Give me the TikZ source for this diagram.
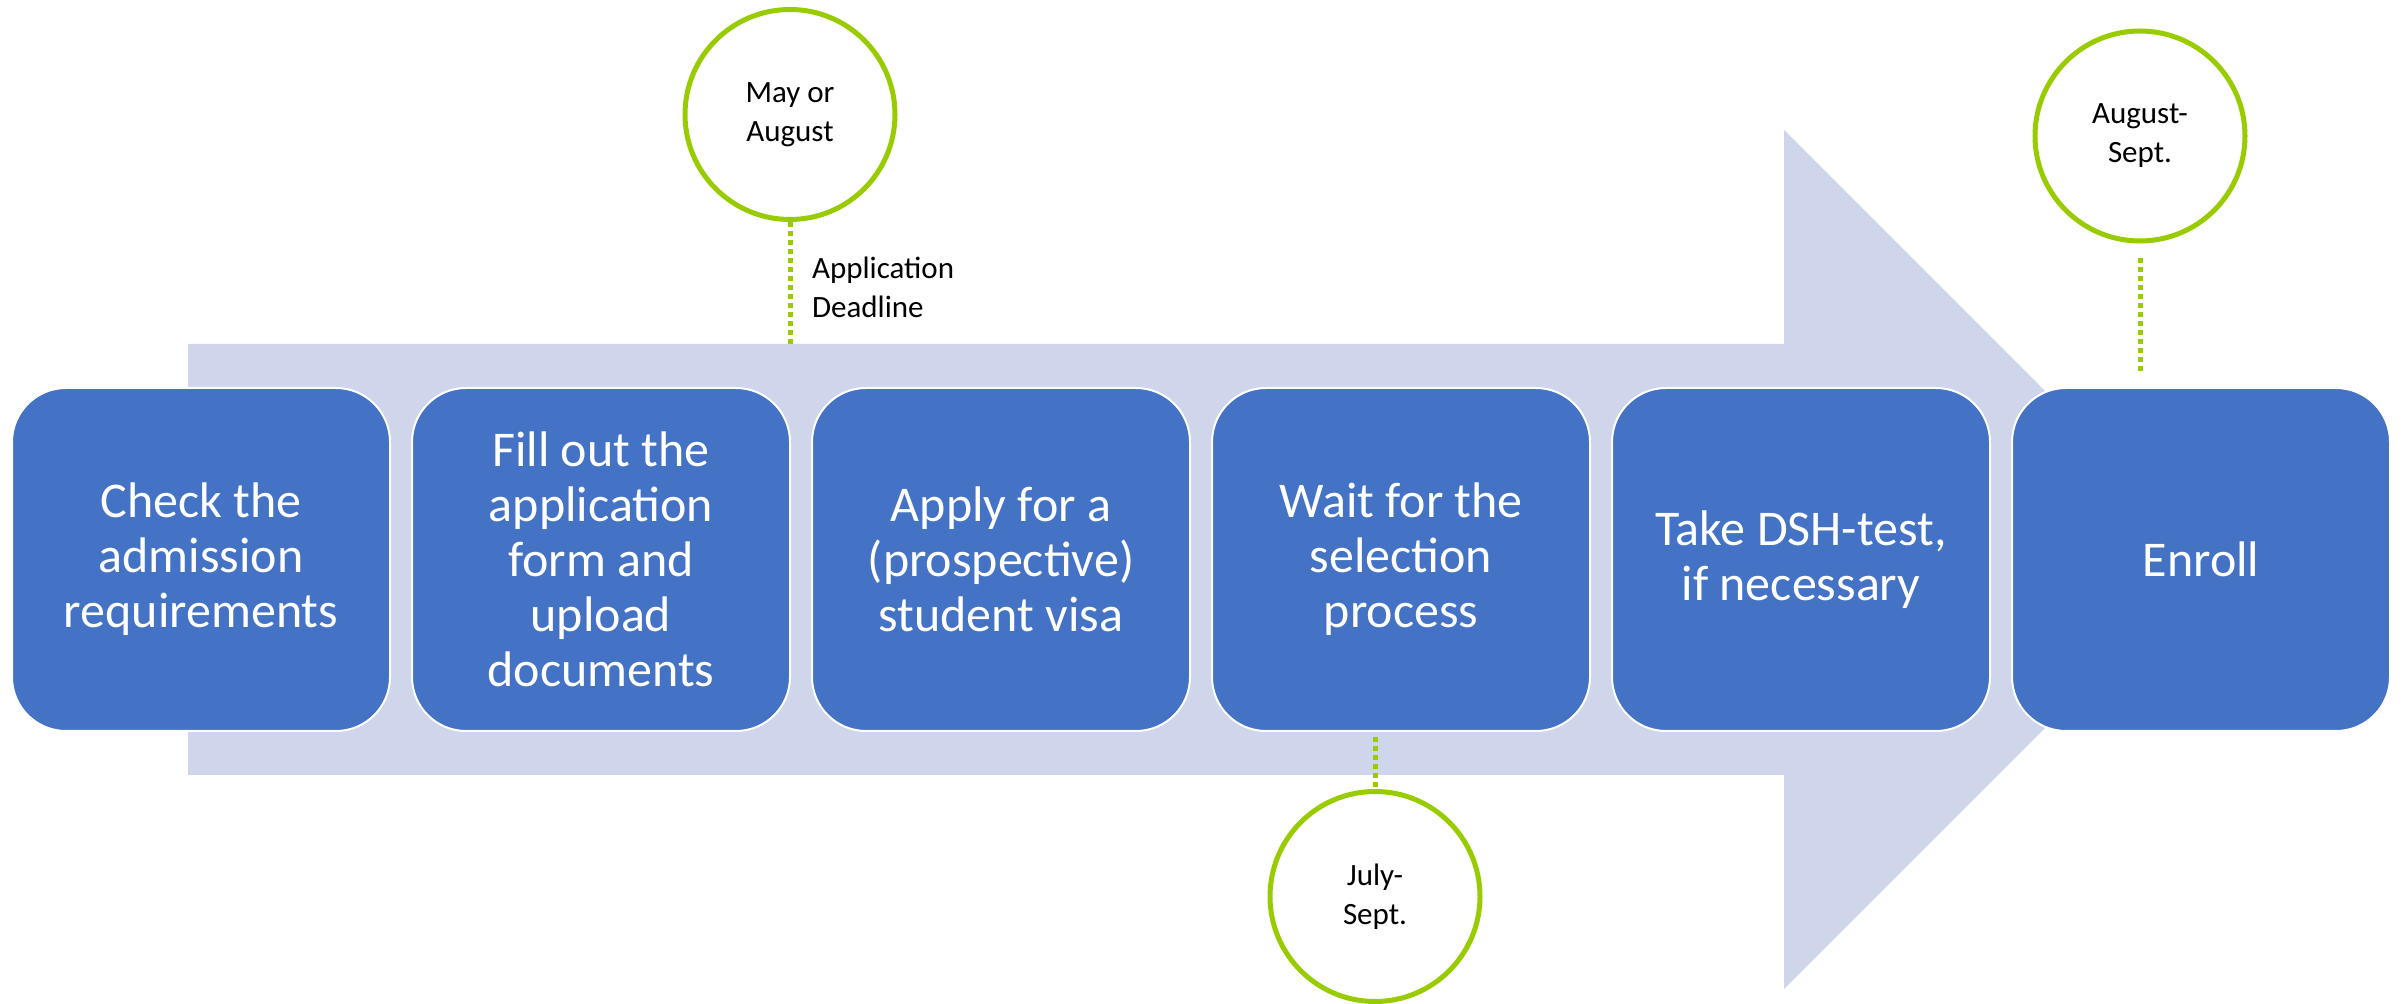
\documentclass[tikz,border=0pt]{standalone}
\usepackage{fontspec}
\setmainfont{Carlito}
\usetikzlibrary{positioning}
\definecolor{stepblue}{HTML}{4472C4}
\definecolor{arrowgray}{HTML}{CFD5EA}
\definecolor{datelime}{HTML}{99CC00}
\tikzstyle{stepbox} = [draw=white, fill=stepblue, line width=1pt,
rounded corners=27pt, minimum width=189pt, minimum height=171.5pt,
inner sep=0pt, text=white, align=center, font=\fontsize{25}{27.5}\selectfont]
\tikzstyle{datecircle} = [circle, draw=datelime, fill=white, line width=2.5pt,
minimum size=105pt, inner sep=0pt, align=center, font=\fontsize{15.5}{19.5}\selectfont]
\tikzstyle{dateline} = [datelime, line width=2.5pt, dash pattern=on 2.5pt off 2pt]

\begin{document}
\begin{tikzpicture}[x=0.5pt, y=-0.5pt]
		\useasboundingbox (0,0) rectangle (2405,1004);
		% big arrow behind the steps
		\fill[arrowgray] (188,344) -- (1784,344) -- (1784,130) -- (2213.5,559.5)
			-- (1784,989) -- (1784,775) -- (188,775) -- cycle;
		% steps
		\node [stepbox] (check) at (201,559.5) {Check the\\admission\\requirements};
		\node [stepbox, right=10pt of check] (fill) {Fill out the\\application\\form and\\upload\\documents};
		\node [stepbox, right=10pt of fill] (visa) {Apply for a\\(prospective)\\student visa};
		\node [stepbox, right=10pt of visa] (wait) {Wait for the\\selection\\process};
		\node [stepbox, right=10pt of wait] (dsh) {Take DSH-test,\\if necessary};
		\node [stepbox, right=10pt of dsh] (enroll) {Enroll};
		% dates
		\node [datecircle] (may) at (790,114.5) {May or\\August};
		\node [datecircle] (aug) at (2140,136) {August-\\Sept.};
		\node [datecircle] (july) at (1375,896.5) {July-\\Sept.};
		\coordinate (mayend) at (790,344);
		\coordinate (augend) at (2140,372);
		\coordinate (julystart) at (1375,737);
		\draw [dateline] (may.south) -- (mayend);
		\draw [dateline] ([yshift=-7.5pt]aug.south) -- (augend);
		\draw [dateline] (julystart) -- (july.north);
		\node [anchor=west, align=left, font=\fontsize{15.5}{19.5}\selectfont] (deadline)
			at (805,287) {Application\\Deadline};
\end{tikzpicture}
\end{document}
